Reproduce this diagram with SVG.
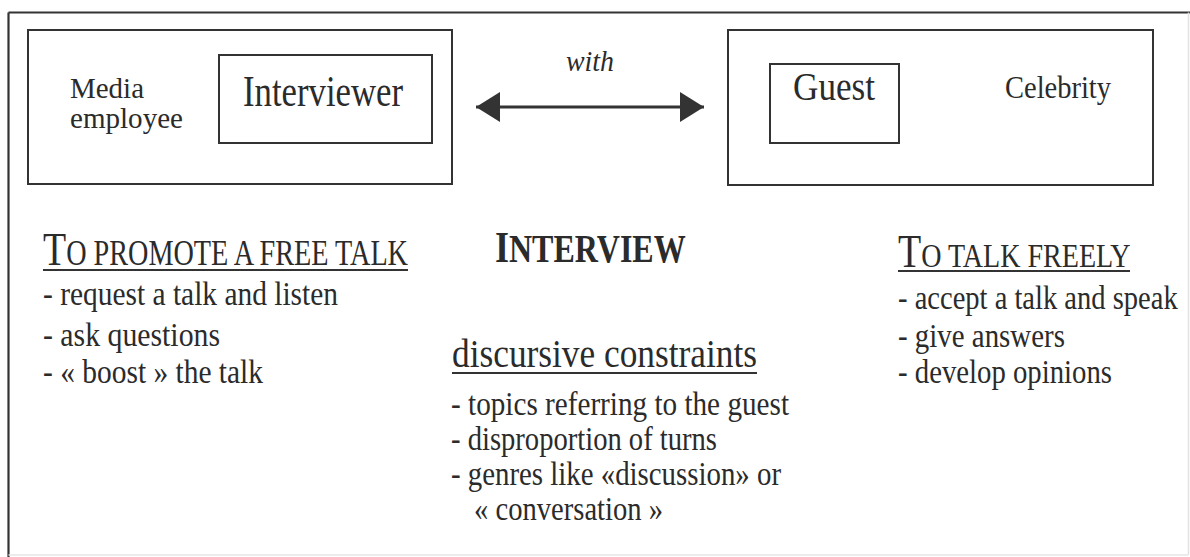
<svg xmlns="http://www.w3.org/2000/svg" width="1190" height="557" viewBox="0 0 1190 557">
  <defs>
    <style>
      .frame { fill: none; stroke: #333; stroke-width: 2; }
      .t { font-family: "Liberation Serif", "Times New Roman", serif; fill: #2b2b2b; }
      .ul { stroke: #333; stroke-width: 2; }
    </style>
    <marker id="head" markerUnits="userSpaceOnUse" markerWidth="24" markerHeight="30"
            refX="24" refY="15" orient="auto-start-reverse" viewBox="0 0 24 30">
      <path d="M0,0 L24,15 L0,30 z" fill="#333"/>
    </marker>
  </defs>
  <rect width="1190" height="557" fill="#fff"/>

  <!-- outer frame: top and left strong, right and bottom faint -->
  <g id="outer-frame">
    <line x1="8.5" y1="12.5" x2="1190" y2="12.5" stroke="#333" stroke-width="2.2"/>
    <line x1="8.5" y1="12.5" x2="8.5" y2="557" stroke="#333" stroke-width="2.2"/>
    <line x1="1188.5" y1="12.5" x2="1188.5" y2="555" stroke="#e2e2e2" stroke-width="1.5"/>
    <line x1="8.5" y1="555" x2="1188.5" y2="555" stroke="#e6e6e6" stroke-width="1.5"/>
  </g>

  <!-- left participant: media employee / interviewer -->
  <g id="media-employee">
    <rect class="frame" x="28" y="30" width="424" height="154"/>
    <text class="t" x="70" y="98" font-size="29" textLength="74" lengthAdjust="spacingAndGlyphs">Media</text>
    <text class="t" x="70" y="128" font-size="29" textLength="113" lengthAdjust="spacingAndGlyphs">employee</text>
  </g>
  <g id="interviewer">
    <rect class="frame" x="219" y="55" width="213" height="88"/>
    <text class="t" x="243" y="106" font-size="44" textLength="160" lengthAdjust="spacingAndGlyphs">Interviewer</text>
  </g>

  <!-- right participant: celebrity / guest -->
  <g id="celebrity">
    <rect class="frame" x="728" y="30" width="425" height="155"/>
    <text class="t" x="1005" y="98" font-size="32" textLength="106" lengthAdjust="spacingAndGlyphs">Celebrity</text>
  </g>
  <g id="guest">
    <rect class="frame" x="770" y="64" width="129" height="79"/>
    <text class="t" x="793" y="100" font-size="41" textLength="82" lengthAdjust="spacingAndGlyphs">Guest</text>
  </g>

  <!-- two-way relation between the participants -->
  <g id="connectors">
    <line x1="476" y1="107" x2="704" y2="107" stroke="#333" stroke-width="3"
          marker-start="url(#head)" marker-end="url(#head)"/>
    <text class="t" x="566" y="71" font-size="30" font-style="italic" textLength="48" lengthAdjust="spacingAndGlyphs">with</text>
  </g>

  <!-- interviewer role (small-caps heading, horizontally condensed) -->
  <g id="promote-talk">
    <text class="t" transform="translate(43 265) scale(0.806 1)"><tspan font-size="47">T</tspan><tspan font-size="35">O PROMOTE A FREE TALK</tspan></text>
    <line class="ul" x1="43" y1="270" x2="408" y2="270"/>
    <text class="t" x="43" y="305" font-size="34" textLength="295" lengthAdjust="spacingAndGlyphs">- request a talk and listen</text>
    <text class="t" x="43" y="346" font-size="34" textLength="177" lengthAdjust="spacingAndGlyphs">- ask questions</text>
    <text class="t" x="43" y="383" font-size="34" textLength="220" lengthAdjust="spacingAndGlyphs">- « boost » the talk</text>
  </g>

  <!-- central genre -->
  <g id="interview">
    <text class="t" font-weight="bold" transform="translate(495 262) scale(0.8 1)"><tspan font-size="45">I</tspan><tspan font-size="40">NTERVIEW</tspan></text>
  </g>

  <g id="discursive-constraints">
    <text class="t" x="452" y="367" font-size="40" textLength="305" lengthAdjust="spacingAndGlyphs">discursive constraints</text>
    <line class="ul" x1="452" y1="373" x2="757" y2="373"/>
    <text class="t" x="451" y="415" font-size="34" textLength="338" lengthAdjust="spacingAndGlyphs">- topics referring to the guest</text>
    <text class="t" x="451" y="450" font-size="34" textLength="266" lengthAdjust="spacingAndGlyphs">- disproportion of turns</text>
    <text class="t" x="451" y="485" font-size="34" textLength="330" lengthAdjust="spacingAndGlyphs">- genres like «discussion» or</text>
    <text class="t" x="474" y="520" font-size="34" textLength="189" lengthAdjust="spacingAndGlyphs">« conversation »</text>
  </g>

  <!-- guest role -->
  <g id="talk-freely">
    <text class="t" transform="translate(898 267) scale(0.825 1)"><tspan font-size="46">T</tspan><tspan font-size="34">O TALK FREELY</tspan></text>
    <line class="ul" x1="898" y1="271" x2="1130" y2="271"/>
    <text class="t" font-size="34" transform="translate(898 309) scale(0.84 1)">- accept a talk and speak</text>
    <text class="t" font-size="34" transform="translate(898 347) scale(0.85 1)">- give answers</text>
    <text class="t" font-size="34" transform="translate(898 383) scale(0.846 1)">- develop opinions</text>
  </g>
</svg>
